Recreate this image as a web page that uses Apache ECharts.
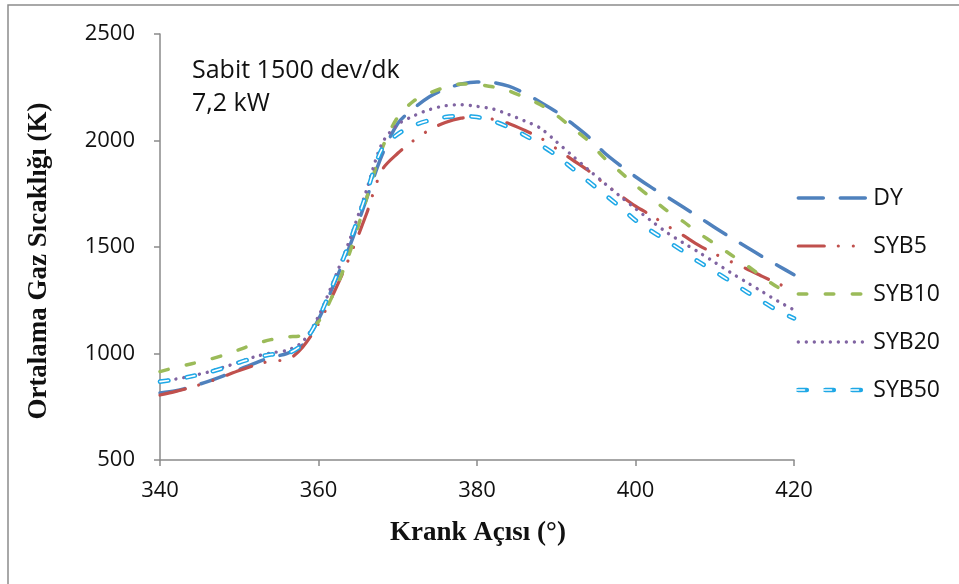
<!DOCTYPE html>
<html><head><meta charset="utf-8">
<script src="https://cdn.jsdelivr.net/npm/echarts@6/dist/echarts.min.js"></script>
<style>html,body{margin:0;padding:0;background:#fff}#c{width:959px;height:584px}</style>
</head><body><div id="c"></div>
<script>
const angles = [340,342,344,346,348,350,352,354,356,358,360,362,364,366,368,370,372,374,376,378,380,382,384,386,388,390,392,394,396,398,400,402,404,406,408,410,412,414,416,418,420];
const DY    = [815,825,845,868,895,925,955,982,1000,1040,1160,1330,1510,1720,1930,2080,2150,2205,2242,2265,2275,2272,2255,2222,2180,2135,2080,2020,1945,1885,1830,1780,1735,1688,1640,1592,1545,1500,1455,1412,1370];
const SYB5  = [805,822,842,865,892,920,945,965,970,1030,1140,1290,1460,1650,1860,1940,2000,2050,2085,2105,2110,2100,2080,2048,2012,1962,1910,1860,1800,1745,1692,1648,1600,1555,1508,1468,1432,1398,1362,1328,1295];
const SYB10 = [915,935,952,970,992,1018,1045,1065,1078,1085,1150,1290,1480,1720,1960,2110,2185,2222,2250,2265,2263,2252,2233,2202,2168,2120,2060,2000,1920,1855,1790,1730,1670,1620,1565,1515,1465,1415,1360,1310,1278];
const SYB20 = [870,880,895,912,935,960,985,1003,1015,1055,1175,1350,1540,1760,1985,2075,2115,2145,2163,2168,2160,2148,2122,2092,2058,1995,1930,1865,1802,1740,1680,1622,1567,1520,1475,1428,1380,1335,1290,1245,1205];
const SYB50 = [868,878,893,910,932,958,980,995,1000,1045,1165,1340,1530,1745,1960,2030,2070,2095,2110,2115,2110,2092,2062,2025,1980,1930,1870,1810,1750,1690,1625,1575,1528,1480,1430,1385,1338,1290,1245,1200,1165];
const seriesNames = ['DY','SYB5','SYB10','SYB20','SYB50'];
const xTitle = 'Krank Açısı (°)';
const yTitle = 'Ortalama Gaz Sıcaklığı (K)';
const note1 = 'Sabit 1500 dev/dk';
const note2 = '7,2 kW';

const styles = {
  DY:    {color:'#4F81BD', width:3.5, dash:[25,17]},
  SYB5:  {color:'#C0504D', width:3.2, dash:[26,14,0.01,15,0.01,15]},
  SYB10: {color:'#9BBB59', width:3.5, dash:[8.5,18.5]},
  SYB20: {color:'#8064A2', width:3.4, dash:[0.01,8]},
  SYB50: {color:'#1FA8E6', width:4.6, dash:[8.5,18.5]}
};

function pts(arr){ return angles.map((a,i)=>[a,arr[i]]); }
function mk(name, data, st, extra){
  return Object.assign({
    name: name, type:'line', data: pts(data), symbol:'none', smooth:0.3,
    lineStyle:{color:st.color, width:st.width, type:st.dash, cap:'round', join:'round'},
    itemStyle:{color:st.color}
  }, extra||{});
}
const chart = echarts.init(document.getElementById('c'), null, {renderer:'canvas'});
const axisCol = '#8a8a8a';
const lab = {color:'#111', fontFamily:'Open Sans', fontSize:22};
chart.setOption({
  animation:false,
  backgroundColor:'#fff',
  grid:{left:160, right:165, top:34, bottom:124},
  xAxis:{type:'value', min:340, max:420, interval:20,
    axisLine:{onZero:false, lineStyle:{color:axisCol, width:1.5}},
    axisTick:{show:true, length:6, lineStyle:{color:axisCol, width:1.5}},
    axisLabel:Object.assign({margin:20, formatter:v=>String(v)}, lab),
    splitLine:{show:false}},
  yAxis:{type:'value', min:500, max:2500, interval:500,
    axisLine:{show:true, onZero:false, lineStyle:{color:axisCol, width:1.5}},
    axisTick:{show:true, length:6, lineStyle:{color:axisCol, width:1.5}},
    axisLabel:Object.assign({margin:25, formatter:v=>String(v)}, lab),
    splitLine:{show:false}},
  legend:{
    data: seriesNames.map(n=>({name:n, lineStyle:{color:styles[n].color, width:styles[n].width, type:styles[n].dash, cap:'round'}, itemStyle:{opacity:0}})),
    orient:'vertical', left:796, top:186, padding:0, itemWidth:70, itemHeight:24, itemGap:24,
    itemStyle:{opacity:0},
    textStyle:{color:'#111', fontFamily:'Open Sans', fontSize:23, lineHeight:24}, itemTextGap:7},
  series:[
    mk('DY', DY, styles.DY),
    mk('SYB5', SYB5, styles.SYB5),
    mk('SYB10', SYB10, styles.SYB10),
    mk('SYB20', SYB20, styles.SYB20),
    mk('SYB50', SYB50, styles.SYB50),
    mk('SYB50_in', SYB50, {color:'#ffffff', width:1.6, dash:styles.SYB50.dash}, {silent:true})
  ],
  graphic:[
    {type:'rect', shape:{x:8, y:5, width:1200, height:1200}, style:{fill:'none', stroke:'#8c8c8c', lineWidth:1.5}, silent:true, z:-1},
    {type:'text', x:192, y:71, style:{text:note1, font:'25px "Open Sans"', fill:'#111', align:'left', verticalAlign:'middle'}},
    {type:'text', x:192, y:104, style:{text:note2, font:'25px "Open Sans"', fill:'#111', align:'left', verticalAlign:'middle'}},
    {type:'text', x:478, y:533, style:{text:xTitle, font:'bold 27px "Liberation Serif"', fill:'#111', align:'center', verticalAlign:'middle'}},
    {type:'text', x:39, y:261, rotation:Math.PI/2, style:{text:yTitle, font:'bold 27px "Liberation Serif"', fill:'#111', align:'center', verticalAlign:'middle'}},
    {type:'line', shape:{x1:796, y1:390, x2:866, y2:390}, style:{stroke:'#fff', lineWidth:1.6, lineDash:[8.5,18.5], lineCap:'round'}, z:100, silent:true}
  ]
});
</script></body></html>
